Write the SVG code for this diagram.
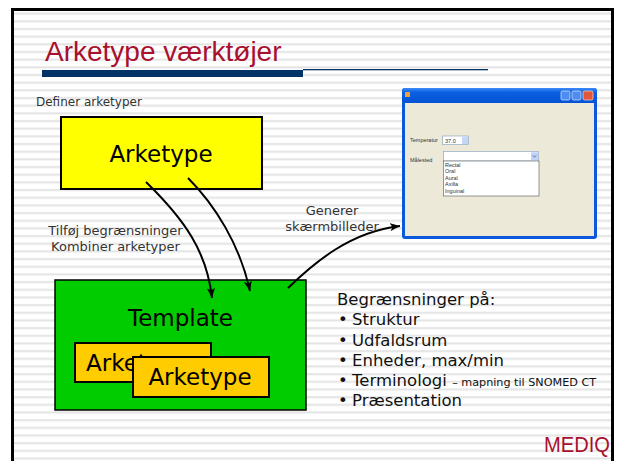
<svg xmlns="http://www.w3.org/2000/svg" width="624" height="461" viewBox="0 0 624 461">
  <defs>
    <pattern id="stripes" patternUnits="userSpaceOnUse" x="0" y="0" width="624" height="7.67">
      <rect x="0" y="0" width="624" height="7.67" fill="#ffffff"/>
      <rect x="0" y="5" width="624" height="2" fill="#e4e4e4"/>
    </pattern>
    <linearGradient id="tbar" x1="0" y1="0" x2="0" y2="1">
      <stop offset="0" stop-color="#3d8af7"/>
      <stop offset="0.3" stop-color="#0a5fe0"/>
      <stop offset="1" stop-color="#0553d4"/>
    </linearGradient>
    <marker id="arr" viewBox="0 0 10 8" refX="10" refY="4" markerWidth="10" markerHeight="8" markerUnits="userSpaceOnUse" orient="auto">
      <path d="M0,0 L10,4 L0,8 L2.5,4 Z" fill="#000"/>
    </marker>
  </defs>
  <style>
    .lbl { font-family: "DejaVu Sans", Verdana, sans-serif; fill: #333; }
    .big { font-family: "DejaVu Sans", Verdana, sans-serif; font-size: 23px; fill: #000; text-anchor: middle; }
    .body { font-family: "DejaVu Sans", Verdana, sans-serif; font-size: 16.5px; fill: #111; }
    .tiny { font-family: "Liberation Sans", Arial, sans-serif; font-size: 5.5px; fill: #333; }
    .conn { fill: none; stroke: #000; stroke-width: 2; marker-end: url(#arr); }
    .box { stroke: #000; stroke-width: 2; }
  </style>

  <rect x="0" y="0" width="624" height="461" fill="#ffffff"/>
  <rect x="12.5" y="9.5" width="600" height="470" fill="url(#stripes)" stroke="#000" stroke-width="3"/>

  <g id="title">
    <text x="45" y="61" font-family="'Liberation Sans', Arial, sans-serif" font-size="28" fill="#a8102e">Arketype værktøjer</text>
    <rect x="42" y="70" width="261" height="7" fill="#003366"/>
    <rect x="303" y="69" width="185" height="1.3" fill="#003366"/>
  </g>

  <g id="label-definer">
    <text class="lbl" x="36" y="106" font-size="12">Definer arketyper</text>
  </g>

  <g id="node-arketype">
    <rect class="box" x="61" y="117" width="201" height="72" fill="#ffff00"/>
    <text class="big" x="161" y="162">Arketype</text>
  </g>

  <g id="node-template">
    <rect x="55" y="280" width="251" height="130" fill="#00cc00" stroke="#000" stroke-width="1.5"/>
    <text class="big" x="180.5" y="326">Template</text>
  </g>

  <g id="node-arketype-back">
    <rect class="box" x="75" y="343" width="136" height="39" fill="#ffcc00"/>
    <text class="big" x="86" y="371" style="text-anchor:start">Arketype</text>
  </g>

  <g id="node-arketype-front">
    <rect class="box" x="133" y="357" width="136" height="40" fill="#ffcc00"/>
    <text class="big" x="200" y="385">Arketype</text>
  </g>

  <g id="node-screenshot">
    <rect x="402" y="88" width="195" height="151" rx="3" fill="#0a58dc"/>
    <rect x="402" y="88" width="195" height="15" rx="3" fill="url(#tbar)"/>
    <rect x="405" y="103" width="189" height="133" fill="#ece9d8"/>
    <rect x="405" y="92" width="5" height="5" fill="#e8a040"/>
    <rect x="561" y="91" width="9" height="9" rx="1.5" fill="#4f8cf0" stroke="#dfe9fb" stroke-width="0.7"/>
    <rect x="572" y="91" width="9" height="9" rx="1.5" fill="#4f8cf0" stroke="#dfe9fb" stroke-width="0.7"/>
    <rect x="583" y="91" width="10" height="9" rx="1.5" fill="#e2573a" stroke="#fbe0d8" stroke-width="0.7"/>
    <text class="tiny" x="410" y="142">Temperatur</text>
    <rect x="442.5" y="136" width="26" height="8.5" fill="#fff" stroke="#7f9db9" stroke-width="0.6"/>
    <rect x="462" y="136.5" width="6" height="7.5" fill="#c6d6f6"/>
    <text class="tiny" x="445" y="142.5">37.0</text>
    <text class="tiny" x="410" y="162">Målested</text>
    <rect x="443.5" y="151.5" width="95" height="9.5" fill="#fff" stroke="#7f9db9" stroke-width="0.6"/>
    <rect x="531" y="152.3" width="7" height="8" fill="#c1d3fb"/>
    <path d="M532.8,155.3 L534.5,157.3 L536.2,155.3" fill="none" stroke="#4d6185" stroke-width="0.8"/>
    <rect x="443.5" y="161" width="95.5" height="35" fill="#fff" stroke="#555" stroke-width="0.6"/>
    <text class="tiny" x="445" y="166.5">Rectal</text>
    <text class="tiny" x="445" y="173">Oral</text>
    <text class="tiny" x="445" y="179.5">Aural</text>
    <text class="tiny" x="445" y="186">Axilla</text>
    <text class="tiny" x="445" y="192.5">Inguinal</text>
  </g>

  <g id="connectors">
    <path class="conn" d="M146,182 C185,220 207,252 212,298"/>
    <path class="conn" d="M188,178 C215,205 240,245 250,291"/>
    <path class="conn" d="M288,288 C315,262 350,232 400,226"/>
  </g>

  <g id="connector-labels">
    <text class="lbl" x="115.5" y="235" font-size="13" text-anchor="middle">Tilføj begrænsninger</text>
    <text class="lbl" x="115.5" y="251" font-size="13" text-anchor="middle">Kombiner arketyper</text>
    <text class="lbl" x="332" y="215" font-size="13" text-anchor="middle">Generer</text>
    <text class="lbl" x="332" y="231" font-size="13" text-anchor="middle">skærmbilleder</text>
  </g>

  <g id="constraints">
    <text class="body" x="337" y="305">Begrænsninger på:</text>
    <text class="body" x="338" y="325">•</text><text class="body" x="352" y="325">Struktur</text>
    <text class="body" x="338" y="345.5">•</text><text class="body" x="352" y="345.5">Udfaldsrum</text>
    <text class="body" x="338" y="366">•</text><text class="body" x="352" y="366">Enheder, max/min</text>
    <text class="body" x="338" y="386">•</text><text class="body" x="352" y="386">Terminologi <tspan font-size="11.2">– mapning til SNOMED CT</tspan></text>
    <text class="body" x="338" y="406">•</text><text class="body" x="352" y="406">Præsentation</text>
  </g>

  <g id="logo">
    <text x="610" y="452" font-family="'Liberation Sans', Arial, sans-serif" font-size="22" fill="#a8102e" text-anchor="end" textLength="66" lengthAdjust="spacingAndGlyphs">MEDIQ</text>
  </g>
</svg>
